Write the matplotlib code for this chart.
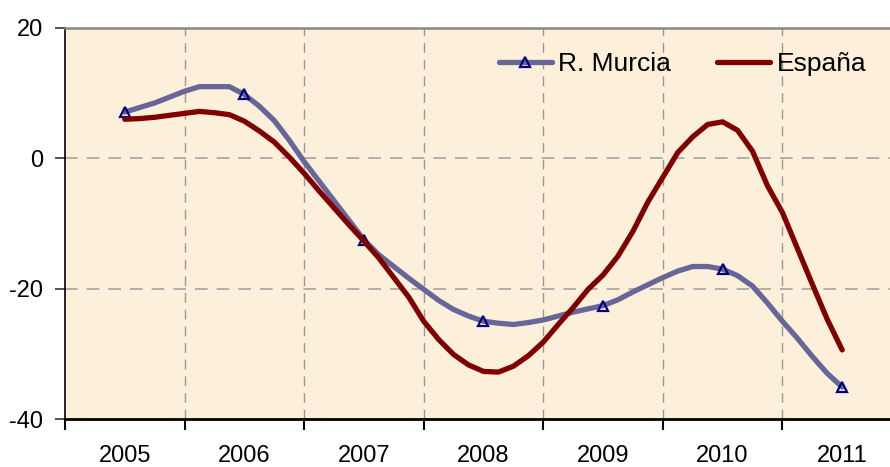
import matplotlib
matplotlib.use("Agg")
import matplotlib.pyplot as plt
import numpy as np

# etiquetas de los años
years = ["2005", "2006", "2007", "2008", "2009", "2010", "2011"]

# datos leídos cada 1/8 de año (desde mitad de 2005 hasta mitad de 2011)
murcia = [7.1, 7.8, 8.5, 9.4, 10.3, 11.0, 11.0, 11.0, 9.8, 8.0, 5.8, 2.8, -0.5,
          -3.5, -6.5, -9.5, -12.5, -14.8, -16.6, -18.4, -20.1, -21.8, -23.2, -24.2, -25.0,
          -25.3, -25.5, -25.2, -24.8, -24.2, -23.6, -23.1, -22.6, -21.7, -20.5, -19.4, -18.3,
          -17.3, -16.6, -16.6, -17.0, -18.0, -19.6, -22.2, -25.0, -27.6, -30.4, -33.0, -35.1]
espana = [6.0, 6.1, 6.3, 6.6, 6.9, 7.2, 7.0, 6.7, 5.7, 4.2, 2.5, 0.2, -2.3,
          -5.0, -7.6, -10.2, -12.7, -15.3, -18.3, -21.3, -25.0, -27.8, -30.1, -31.7, -32.7,
          -32.8, -31.9, -30.3, -28.2, -25.5, -22.9, -20.1, -17.9, -15.0, -11.2, -6.7, -2.9,
          0.9, 3.3, 5.2, 5.6, 4.3, 1.1, -4.2, -8.3, -13.8, -19.3, -24.7, -29.4]

t = 0.5 + 0.125 * np.arange(len(murcia))

plt.rcParams["font.family"] = ["Liberation Sans", "DejaVu Sans"]

fig = plt.figure(figsize=(8.9, 4.67), dpi=100)
ax = fig.add_axes((65 / 890, 48 / 467, 1 - 65 / 890, (419 - 28) / 467))
ax.set_facecolor("#FCF0DA")

ax.plot(t, murcia, color="#666699", lw=3.8, solid_joinstyle="round", solid_capstyle="round",
        marker="^", markevery=8, ms=7, mfc="none", mec="#000080", mew=1.6, label="R. Murcia")
ax.plot(t, espana, color="#800000", lw=3.8, solid_joinstyle="round", solid_capstyle="round",
        label="España")

ax.set_xlim(0, 6.9)
ax.set_ylim(-40, 20)

# ejes y rejilla
ax.set_yticks([-40, -20, 0, 20])
ax.set_yticklabels(["-40", "-20", "0", "20"])
ax.set_xticks(np.arange(0, 7))
ax.set_xticklabels([])
ax.set_xticks(np.arange(len(years)) + 0.5, minor=True)
ax.set_xticklabels(years, minor=True)
ax.tick_params(axis="x", which="major", length=8, width=1.5, color="black", direction="out")
ax.tick_params(axis="x", which="minor", length=0, pad=18.5, labelsize=17)
ax.tick_params(axis="y", length=7, width=1.2, color="#333333", pad=9, labelsize=17)

for x in range(1, 7):
    ax.axvline(x, color="#999999", lw=1, ls=(0, (7, 5)), zorder=0.5)
for y in (0, -20):
    ax.axhline(y, color="#aaaaaa", lw=1.3, ls=(0, (7, 5)), zorder=0.5)

ax.spines["right"].set_visible(False)
ax.spines["top"].set_color("#888888")
ax.spines["top"].set_linewidth(1.8)
ax.spines["left"].set_linewidth(1.2)
ax.spines["bottom"].set_linewidth(2)

leg = ax.legend(loc="upper right", bbox_to_anchor=(1.0, 1.0), ncol=2, frameon=False,
                handlelength=2.0, columnspacing=1.75, handletextpad=0.25,
                prop={"size": 19})

fig.savefig("out.png", dpi=100)
